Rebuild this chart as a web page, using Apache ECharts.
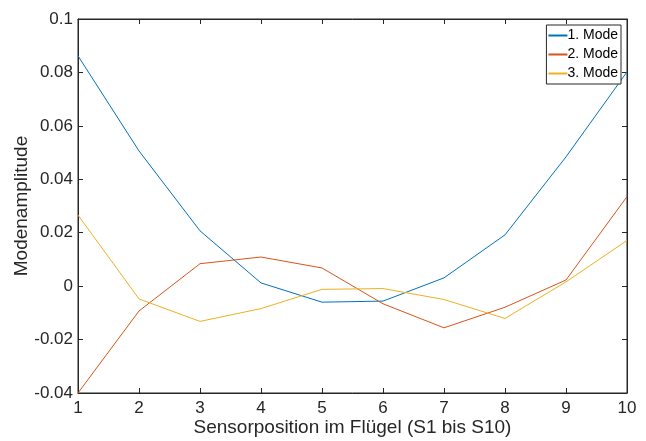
<!DOCTYPE html>
<html>
<head>
<meta charset="utf-8">
<script src="https://cdn.jsdelivr.net/npm/echarts@6/dist/echarts.min.js"></script>
<style>
  html, body { margin: 0; padding: 0; background: #fff; }
  #chart { width: 646px; height: 441px; }
</style>
</head>
<body>
<div id="chart"></div>
<script>
// Sensorpositionen S1..S10
var positions = [1, 2, 3, 4, 5, 6, 7, 8, 9, 10];
var mode1 = [0.0862, 0.0506, 0.0207, 0.0012, -0.0060, -0.0056, 0.0031, 0.0192, 0.0484, 0.0802];
var mode2 = [-0.0400, -0.0093, 0.0084, 0.0109, 0.0068, -0.0066, -0.0156, -0.0079, 0.0023, 0.0335];
var mode3 = [0.0266, -0.0048, -0.0132, -0.0084, -0.0012, -0.0009, -0.0050, -0.0121, 0.0016, 0.0171];
var seriesNames = ["1. Mode", "2. Mode", "3. Mode"];
var colors = ["#0072BD", "#D95319", "#EDB120"];

function pairs(vals) {
    var out = [];
    for (var i = 0; i < positions.length; i++) {
        out.push([positions[i], vals[i]]);
    }
    return out;
}

var myChart = echarts.init(document.getElementById("chart"));
var font = "Liberation Sans, Arial, sans-serif";
var axisCol = "#262626";

var option = {
    animation: false,
    color: colors,
    grid: {
        left: 78, right: 19, top: 19, bottom: 48,
        outerBoundsMode: "none",
        show: true, borderColor: axisCol, borderWidth: 1, backgroundColor: "#fff"
    },
    legend: {
        data: seriesNames,
        orient: "vertical",
        right: 25,
        top: 25,
        icon: "rect",
        itemWidth: 19,
        itemHeight: 2,
        itemGap: 4,
        padding: [3, 3, 3, 2],
        borderColor: axisCol,
        borderWidth: 1,
        backgroundColor: "#fff",
        textStyle: { fontFamily: font, fontSize: 14, lineHeight: 15, color: "#000", padding: [0, 0, 0, -5] }
    },
    xAxis: [
        {
            type: "value", min: 1, max: 10, interval: 1,
            name: "Sensorposition im Flügel (S1 bis S10)",
            nameLocation: "middle", nameGap: 25, nameMoveOverlap: false,
            nameTextStyle: { fontFamily: font, fontSize: 19, color: axisCol },
            axisLine: { show: true, onZero: false, lineStyle: { color: axisCol } },
            axisTick: { inside: true, length: 5, lineStyle: { color: axisCol } },
            axisLabel: { fontFamily: font, fontSize: 17, color: axisCol, margin: 7 },
            splitLine: { show: false }
        },
        {
            type: "value", min: 1, max: 10, interval: 1, position: "top",
            axisLine: { show: true, onZero: false, lineStyle: { color: axisCol } },
            axisTick: { inside: true, length: 5, lineStyle: { color: axisCol } },
            axisLabel: { show: false },
            splitLine: { show: false }
        }
    ],
    yAxis: [
        {
            type: "value", min: -0.04, max: 0.1, interval: 0.02,
            name: "Modenamplitude",
            nameLocation: "middle", nameGap: 47, nameMoveOverlap: false,
            nameTextStyle: { fontFamily: font, fontSize: 19, color: axisCol },
            axisLine: { show: true, onZero: false, lineStyle: { color: axisCol } },
            axisTick: { show: true, inside: true, length: 5, lineStyle: { color: axisCol } },
            axisLabel: {
                fontFamily: font, fontSize: 17, color: axisCol, margin: 5,
                formatter: function (v) { return String(+v.toFixed(2)); }
            },
            splitLine: { show: false }
        },
        {
            type: "value", min: -0.04, max: 0.1, interval: 0.02, position: "right",
            axisLine: { show: true, onZero: false, lineStyle: { color: axisCol } },
            axisTick: { show: true, inside: true, length: 5, lineStyle: { color: axisCol } },
            axisLabel: { show: false },
            splitLine: { show: false }
        }
    ],
    series: [mode1, mode2, mode3].map(function (vals, i) {
        return {
            name: seriesNames[i],
            type: "line",
            data: pairs(vals),
            showSymbol: false,
            symbol: "none",
            lineStyle: { width: 1, color: colors[i] },
            itemStyle: { color: colors[i] }
        };
    })
};

myChart.setOption(option);
</script>
</body>
</html>
